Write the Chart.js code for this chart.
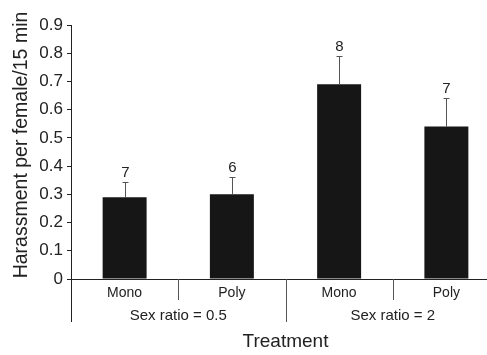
<!DOCTYPE html>
<html>
<head>
<meta charset="utf-8">
<script src="https://cdn.jsdelivr.net/npm/chart.js@4.4.1/dist/chart.umd.min.js"></script>
<style>
  html, body { margin: 0; padding: 0; background: #fff; overflow: hidden; }
  #wrap { width: 487px; height: 355px; overflow: hidden; }
</style>
</head>
<body>
<div id="wrap"><canvas id="chart" width="500" height="355"></canvas></div>
<script>
const categories = ['Mono', 'Poly', 'Mono', 'Poly'];
const groups = ['Sex ratio = 0.5', 'Sex ratio = 2'];
const means = [0.29, 0.30, 0.69, 0.54];
const errors = [0.055, 0.06, 0.10, 0.10];
const sampleSizes = [7, 6, 8, 7];
const yTicks = [0, 0.1, 0.2, 0.3, 0.4, 0.5, 0.6, 0.7, 0.8, 0.9];

const textColor = '#222';
Chart.defaults.font.family = '"Liberation Sans", Arial, sans-serif';

// error bars, n labels, group separators and titles
const extras = {
  id: 'extras',
  afterDraw(chart) {
    const { ctx, chartArea } = chart;
    const x = chart.scales.x;
    const y = chart.scales.y;
    ctx.save();

    ctx.strokeStyle = '#555';
    ctx.lineWidth = 1;
    ctx.fillStyle = textColor;
    ctx.font = '15px "Liberation Sans", Arial, sans-serif';
    ctx.textAlign = 'center';
    ctx.textBaseline = 'alphabetic';
    means.forEach((m, i) => {
      const px = Math.round(x.getPixelForValue(i)) + 0.5;
      const top = Math.round(y.getPixelForValue(m + errors[i])) + 0.5;
      const bar = y.getPixelForValue(m);
      ctx.beginPath();
      ctx.moveTo(px, bar);
      ctx.lineTo(px, top);
      ctx.moveTo(px - 3, top);
      ctx.lineTo(px + 3, top);
      ctx.stroke();
      ctx.fillText(String(sampleSizes[i]), px, top - 6);
    });

    // separators below the axis
    for (let i = 0; i < categories.length; i++) {
      const sx = Math.round(x.getPixelForValue(i - 0.5)) + 0.5;
      const long = i % 2 === 0;
      ctx.strokeStyle = i === 0 ? textColor : '#555';
      ctx.beginPath();
      ctx.moveTo(sx, chartArea.bottom);
      ctx.lineTo(sx, chartArea.bottom + (long ? 43 : 21));
      ctx.stroke();
    }

    ctx.font = '15px "Liberation Sans", Arial, sans-serif';
    groups.forEach((g, k) => {
      const gx = x.getPixelForValue(2 * k + 0.5);
      ctx.fillText(g, gx, chartArea.bottom + 40.5);
    });

    ctx.font = '19px "Liberation Sans", Arial, sans-serif';
    ctx.fillText('Treatment', (chartArea.left + chartArea.right) / 2, chartArea.bottom + 68);

    ctx.translate(26.5, (chartArea.top + chartArea.bottom) / 2 - 7);
    ctx.rotate(-Math.PI / 2);
    ctx.font = '19.5px "Liberation Sans", Arial, sans-serif';
    ctx.fillText('Harassment per female/15 min', 0, 0);

    ctx.restore();
  }
};

new Chart(document.getElementById('chart'), {
  type: 'bar',
  data: {
    labels: categories,
    datasets: [{
      data: means,
      backgroundColor: '#161616',
      borderWidth: 0,
      barPercentage: 0.41,
      categoryPercentage: 1
    }]
  },
  options: {
    responsive: false,
    animation: false,
    layout: { padding: { top: 25, right: 0, bottom: 0, left: 0 } },
    plugins: {
      legend: { display: false },
      tooltip: { enabled: false }
    },
    scales: {
      x: {
        grid: { display: false, drawTicks: false },
        border: { color: textColor, width: 1 },
        ticks: { color: textColor, font: { size: 14 }, padding: 6 },
        afterFit(scale) { scale.height = 76; }
      },
      y: {
        min: 0,
        max: 0.9,
        afterBuildTicks(scale) { scale.ticks = yTicks.map(v => ({ value: v })); },
        ticks: {
          color: textColor,
          font: { size: 17 },
          padding: 4,
          callback: v => (v === 0 ? '0' : v.toFixed(1))
        },
        grid: { drawOnChartArea: false, tickLength: 4, color: textColor },
        border: { color: textColor, width: 1 },
        afterFit(scale) { scale.width = 71; }
      }
    }
  },
  plugins: [extras]
});
</script>
</body>
</html>
